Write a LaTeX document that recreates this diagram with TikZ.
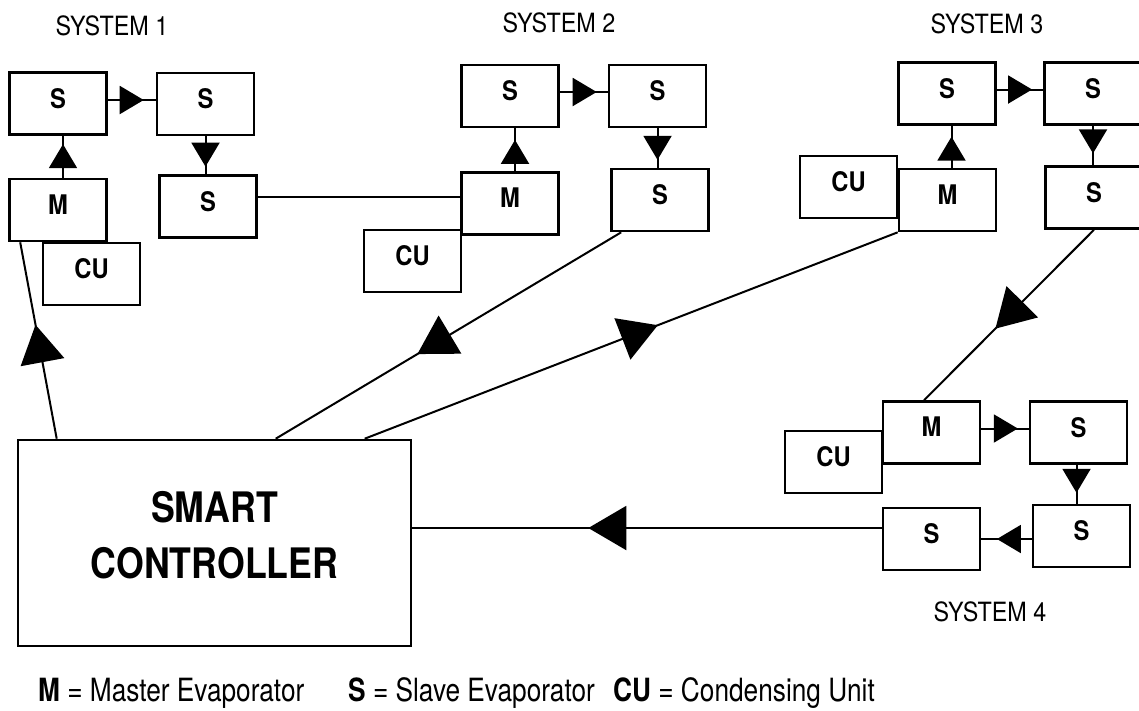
\documentclass[tikz,border=0pt]{standalone}
\usepackage{fontspec}
\setmainfont[FakeStretch=0.88]{TeX Gyre Heros}
\newfontfamily\ctrlfont[FakeStretch=0.85]{TeX Gyre Heros}
\newfontfamily\keyfont[FakeStretch=0.82]{TeX Gyre Heros}
\usetikzlibrary{arrows.meta, decorations.markings}

\begin{document}
\begin{tikzpicture}[
    x=1pt, y=-1pt,
    unitbox/.style={draw, line width=2.6pt, minimum width=97pt, minimum height=62pt, inner sep=0pt, text depth=11pt, font=\fontsize{27}{30}\selectfont\bfseries},
    ctrlbox/.style={draw, line width=2.6pt, minimum width=393pt, minimum height=206pt, align=center, text depth=16pt, font=\ctrlfont\fontsize{42}{56}\selectfont\bfseries},
    syslabel/.style={font=\fontsize{26.5}{28}\selectfont},
    keytext/.style={anchor=base west, inner sep=0pt, font=\keyfont\fontsize{32}{34}\selectfont},
    link/.style={line width=2pt},
    smalltip/.style={link, postaction={decorate}, decoration={markings, mark=at position #1 with {\arrow{Triangle[length=24pt, width=28pt]}}}},
    bigtip/.style={link, postaction={decorate}, decoration={markings, mark=at position #1 with {\arrow{Triangle[length=38pt, width=44pt]}}}}
]
\useasboundingbox (0,0) rectangle (1139,710);

% ===== System 1 =====
\node[syslabel] (sys1) at (112, 26) {SYSTEM 1};
\node[unitbox] (s1a) at (58, 103.5) {S};
\node[unitbox] (s1b) at (205.5, 104) {S};
\node[unitbox] (m1) at (58, 210) {M};
\node[unitbox] (cu1) at (91.5, 274) {CU};
\node[unitbox] (s1c) at (208, 206.5) {S};
\draw[smalltip=0.75] ([yshift=3.5pt]s1a.east) -- ([yshift=3.5pt]s1a.east -| s1b.west);
\draw[smalltip=0.8] ([xshift=5pt]m1.north) -- ([xshift=5pt]s1a.south);
\draw[smalltip=0.8] (s1b.south) -- (s1b.south |- s1c.north);

% ===== System 2 =====
\node[syslabel] (sys2) at (559, 23) {SYSTEM 2};
\node[unitbox] (s2a) at (510, 96) {S};
\node[unitbox] (s2b) at (657.5, 96) {S};
\node[unitbox] (m2) at (510, 203.5) {M};
\node[unitbox] (cu2) at (412.5, 261) {CU};
\node[unitbox] (s2c) at (660, 200) {S};
\draw[link] ([yshift=9.5pt]s1c.east) -- ([yshift=9.5pt]s1c.east -| m2.west);
\draw[smalltip=0.73] ([xshift=5pt]m2.north) -- ([xshift=5pt]s2a.south);
\draw[smalltip=0.77] ([yshift=4pt]s2a.east) -- ([yshift=4pt]s2b.west);
\draw[smalltip=0.8] (s2b.south) -- (s2b.south |- s2c.north);

% ===== System 3 =====
\node[syslabel] (sys3) at (987, 24) {SYSTEM 3};
\node[unitbox] (s3a) at (947, 93.5) {S};
\node[unitbox] (s3b) at (1093, 93.5) {S};
\node[unitbox] (m3) at (947.5, 200) {M};
\node[unitbox] (cu3) at (848.5, 187) {CU};
\node[unitbox] (s3c) at (1094, 197.5) {S};
\draw[smalltip=0.74] ([xshift=4pt]m3.north) -- ([xshift=4pt]m3.north |- s3a.south);
\draw[smalltip=0.76] ([yshift=4pt]s3a.east) -- ([yshift=4pt]s3b.west);
\draw[smalltip=0.7] (s3b.south) -- (s3b.south |- s3c.north);

% ===== System 4 =====
\node[syslabel] (sys4) at (990, 612) {SYSTEM 4};
\node[unitbox] (m4) at (931.5, 432.5) {M};
\node[unitbox] (cu4) at (833.5, 462) {CU};
\node[unitbox] (s4a) at (1078.5, 432.5) {S};
\node[unitbox] (s4b) at (1081.5, 536) {S};
\node[unitbox] (s4c) at (931.5, 539) {S};
\draw[smalltip=0.77] ([yshift=4pt]m4.east) -- ([yshift=4pt]s4a.west);
\draw[smalltip=0.72] ([xshift=-2pt]s4a.south) -- ([xshift=-2pt]s4a.south |- s4b.north);
\draw[smalltip=0.69] (s4c.east -| s4b.west) -- (s4c.east);

% ===== Smart controller =====
\node[ctrlbox] (ctrl) at (214.5, 543) {SMART\\CONTROLLER};
\draw[bigtip=0.58] ([xshift=40pt]ctrl.north west) -- ([xshift=12pt]m1.south west);
\draw[bigtip=0.59] ([xshift=11pt]s2c.south west) -- ([xshift=259pt]ctrl.north west);
\draw[bigtip=0.55] ([xshift=348pt]ctrl.north west) -- (m3.south west);
\draw[bigtip=0.58] (s3c.south) -- ([xshift=-7.5pt]m4.north);
\draw[bigtip=0.625] ([yshift=11pt]s4c.west) -- ([yshift=11pt]s4c.west -| ctrl.east);

% ===== Key =====
\node[keytext] (key1) at (38, 701) {\textbf{M} = Master Evaporator};
\node[keytext] (key2) at (348, 701) {\textbf{S} = Slave Evaporator};
\node[keytext] (key3) at (613, 701) {\textbf{CU} = Condensing Unit};

\end{tikzpicture}
\end{document}
